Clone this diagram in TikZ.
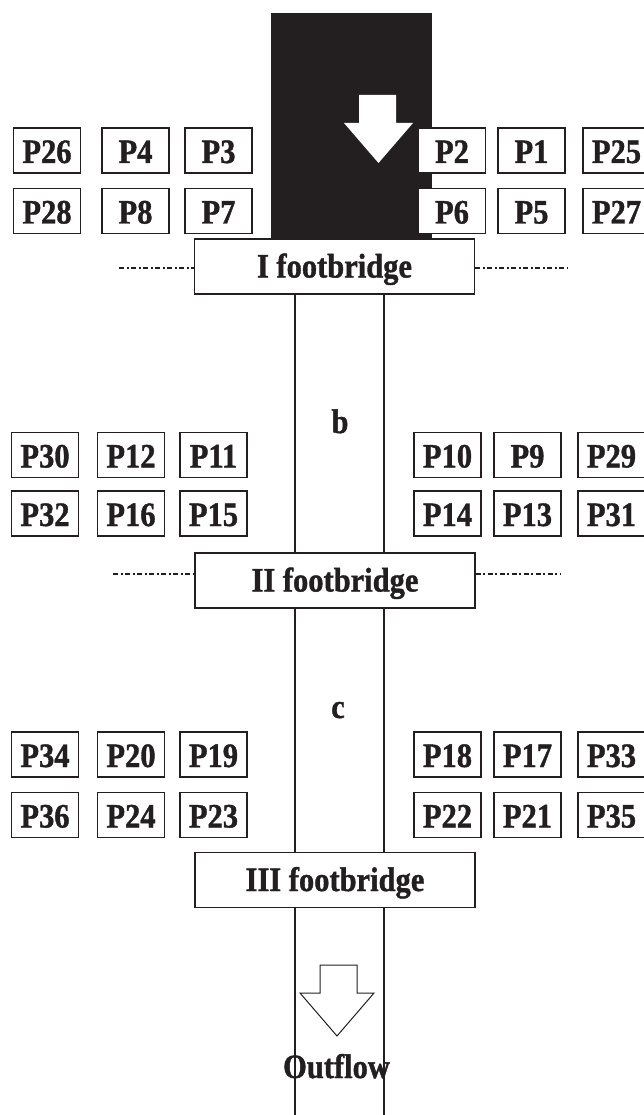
\documentclass[tikz,border=0pt]{standalone}
\usepackage{fontspec}
\setmainfont{Liberation Serif}[BoldFeatures={FakeBold=1.2}]
\usepackage{graphicx}
\definecolor{ink}{RGB}{35,31,32}
\newcommand\stx[1]{\scalebox{1}[1.12]{#1}}
\begin{document}
\begin{tikzpicture}[x=1pt,y=-1pt,
  pbox/.style={draw=ink, fill=white, line width=1.2pt, minimum width=67pt,
    minimum height=45pt, inner sep=0pt, text height=25pt, text depth=0pt,
    font=\fontsize{30.5}{36}\selectfont\bfseries, text=ink},
  fbox/.style={pbox, minimum width=280pt, minimum height=55pt, text height=22pt},
  chan/.style={draw=ink, line width=1.2pt},
  dd/.style={draw=ink, line width=2pt, dash pattern=on 5pt off 2.5pt on 2pt off 2.5pt},
  lbl/.style={font=\fontsize{30.5}{36}\selectfont\bfseries, text=ink, inner sep=0pt, anchor=base}
]
\useasboundingbox (0,0) rectangle (644,1115);
\clip (0,0) rectangle (644,1115);
\fill[white] (0,0) rectangle (644,1115);

% inflow channel (black) with white arrow
\fill[ink] (271,13) rectangle (432,250);
\fill[white] (359,95) -- (396,95) -- (396,123) -- (413,123) -- (378.5,163)
  -- (344,123) -- (359,123) -- cycle;

% footbridges
\node[fbox] (fb1) at (334.5,266.5) {\stx{I footbridge}};
\node[fbox] (fb2) at (335,580.5) {\stx{II footbridge}};
\node[fbox] (fb3) at (335,880) {\stx{III footbridge}};

% channel lines
\coordinate (xl) at (295,0);
\coordinate (xr) at (384,0);
\coordinate (endL) at (295,1115);
\coordinate (endR) at (384,1115);
\draw[chan] (fb1.south -| xl) -- (fb2.north -| xl);
\draw[chan] (fb1.south -| xr) -- (fb2.north -| xr);
\draw[chan] (fb2.south -| xl) -- (fb3.north -| xl);
\draw[chan] (fb2.south -| xr) -- (fb3.north -| xr);
\draw[chan] (fb3.south -| xl) -- (endL);
\draw[chan] (fb3.south -| xr) -- (endR);

% dash-dot lines
\coordinate (d1l) at (119,268);
\coordinate (d1r) at (567,268);
\coordinate (d2l) at (113,574);
\coordinate (d2r) at (560,574);
\draw[dd] (d1l) -- (d1l -| fb1.west);
\draw[dd] (d1l -| fb1.east) -- (d1r);
\draw[dd] (d2l) -- (d2l -| fb2.west);
\draw[dd] (d2l -| fb2.east) -- (d2r);

% section a boxes
\node[pbox] (P26) at (47,150.5) {\stx{P26}};
\node[pbox] (P4) at (135.5,150.5) {\stx{P4}};
\node[pbox] (P3) at (218.5,150.5) {\stx{P3}};
\node[pbox] (P2) at (452,150.5) {\stx{P2}};
\node[pbox] (P1) at (531.5,150.5) {\stx{P1}};
\node[pbox] (P25) at (616.5,150.5) {\stx{P25}};
\node[pbox] (P28) at (47,211) {\stx{P28}};
\node[pbox] (P8) at (135.5,211) {\stx{P8}};
\node[pbox] (P7) at (218.5,211) {\stx{P7}};
\node[pbox] (P6) at (452,211) {\stx{P6}};
\node[pbox] (P5) at (531.5,211) {\stx{P5}};
\node[pbox] (P27) at (616.5,211) {\stx{P27}};

% section b boxes
\node[pbox] (P30) at (45,455) {\stx{P30}};
\node[pbox] (P12) at (131,455) {\stx{P12}};
\node[pbox] (P11) at (213.5,455) {\stx{P11}};
\node[pbox] (P10) at (447.5,455) {\stx{P10}};
\node[pbox] (P9) at (527.5,455) {\stx{P9}};
\node[pbox] (P29) at (611.5,455) {\stx{P29}};
\node[pbox] (P32) at (45,513.5) {\stx{P32}};
\node[pbox] (P16) at (131,513.5) {\stx{P16}};
\node[pbox] (P15) at (213.5,513.5) {\stx{P15}};
\node[pbox] (P14) at (447.5,513.5) {\stx{P14}};
\node[pbox] (P13) at (527.5,513.5) {\stx{P13}};
\node[pbox] (P31) at (611.5,513.5) {\stx{P31}};

% section c boxes
\node[pbox] (P34) at (45,754.5) {\stx{P34}};
\node[pbox] (P20) at (131,754.5) {\stx{P20}};
\node[pbox] (P19) at (213.5,754.5) {\stx{P19}};
\node[pbox] (P18) at (447.5,754.5) {\stx{P18}};
\node[pbox] (P17) at (527.5,754.5) {\stx{P17}};
\node[pbox] (P33) at (611.5,754.5) {\stx{P33}};
\node[pbox] (P36) at (45,815) {\stx{P36}};
\node[pbox] (P24) at (131,815) {\stx{P24}};
\node[pbox] (P23) at (213.5,815) {\stx{P23}};
\node[pbox] (P22) at (447.5,815) {\stx{P22}};
\node[pbox] (P21) at (527.5,815) {\stx{P21}};
\node[pbox] (P35) at (611.5,815) {\stx{P35}};

% section labels
\node[lbl] (lb) at (340,433) {\stx{b}};
\node[lbl] (lc) at (338,718) {\stx{c}};

% outflow arrow
\draw[ink, fill=white, line width=1pt] (320,965) -- (357,965) -- (357,993)
  -- (374,993) -- (337,1036) -- (300,993) -- (320,993) -- cycle;
\node[lbl] (out) at (336.5,1078) {\stx{Outflow}};
\end{tikzpicture}
\end{document}
